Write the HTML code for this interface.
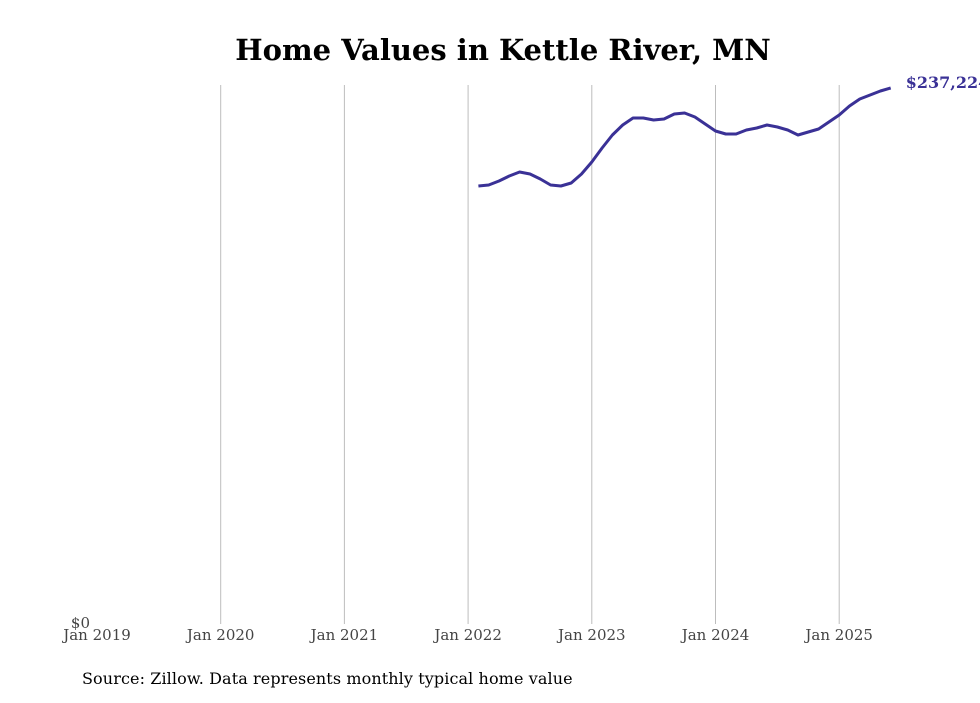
<!DOCTYPE html>
<html><head><meta charset="utf-8"><style>
body{margin:0;background:#fff;width:980px;height:699px;overflow:hidden;font-family:"DejaVu Serif","Liberation Serif",serif}
</style></head><body>
<svg id="c" width="980" height="699">
<text x="503" y="60" text-anchor="middle" font-size="29" font-weight="bold" fill="#000">Home Values in Kettle River, MN</text>
<g id="grid"></g>
<g id="xt"></g>
<text x="90" y="628" text-anchor="end" font-size="15" fill="#444">$0</text>
<path id="ln" fill="none" stroke="#3a3196" stroke-width="3" stroke-linejoin="round"/>
<text id="endlab" font-size="16" font-weight="bold" fill="#3a3196"></text>
<text x="82" y="684" font-size="16" letter-spacing="0.1" fill="#000">Source: Zillow. Data represents monthly typical home value</text>
</svg>
<script>
const xTickLabels=["Jan 2019","Jan 2020","Jan 2021","Jan 2022","Jan 2023","Jan 2024","Jan 2025"];
const startMonth=37; // months since Jan 2019 (Feb 2022)
const values=[193850,194290,196060,198280,200040,199160,196950,194290,193850,195180,199160,204470,210670,216420,220850,223950,223950,223060,223500,225720,226160,224390,221290,218190,216860,216860,218630,219520,220850,219960,218630,216420,217750,219070,222180,225270,229260,232350,234120,235890,237224];
const x=m=>97+m*(123.7/12);
const y=v=>624-v*(536/237224);
const ns="http://www.w3.org/2000/svg";
const g=document.getElementById('grid'),xt=document.getElementById('xt');
xTickLabels.forEach((t,i)=>{
 const xx=x(i*12);
 if(i>0){const l=document.createElementNS(ns,'line');
 l.setAttribute('x1',xx);l.setAttribute('x2',xx);l.setAttribute('y1',85);l.setAttribute('y2',624);
 l.setAttribute('stroke','#bdbdbd');l.setAttribute('stroke-width','1');
 
 
 g.appendChild(l);}
 const tx=document.createElementNS(ns,'text');
 tx.setAttribute('x',xx);tx.setAttribute('y',640);tx.setAttribute('text-anchor','middle');
 tx.setAttribute('font-size','15');tx.setAttribute('fill','#444');tx.textContent=t;
 
 
 xt.appendChild(tx);
});
let d='';values.forEach((v,i)=>{d+=(i?'L':'M')+x(startMonth+i).toFixed(1)+','+y(v).toFixed(1);});
document.getElementById('ln').setAttribute('d',d);
const lv=values[values.length-1],el=document.getElementById('endlab');
el.setAttribute('x',x(startMonth+values.length-1)+15);el.setAttribute('y',y(lv)-0);
el.textContent='$'+lv.toLocaleString('en-US');
</script>
</body></html>
